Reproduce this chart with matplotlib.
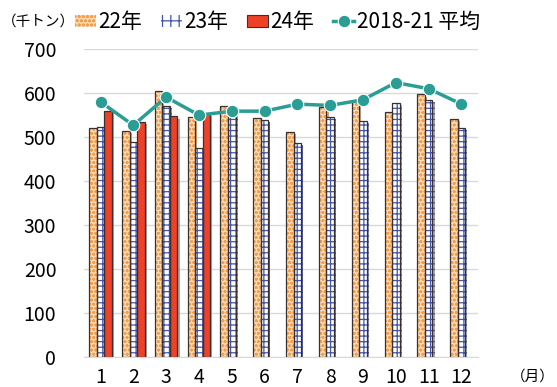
import numpy as np
import matplotlib.pyplot as plt
import matplotlib.patheffects as pe

plt.rcParams['font.family'] = ['Noto Sans CJK JP', 'DejaVu Sans']
plt.rcParams['hatch.linewidth'] = 0.9

# Monthly volumes (thousand tons)
months = ['1', '2', '3', '4', '5', '6', '7', '8', '9', '10', '11', '12']
y22 = [521, 515, 604, 545, 571, 543, 512, 569, 583, 557, 597, 542]
y23 = [524, 489, 571, 476, 555, 539, 487, 545, 536, 578, 585, 520]
y24 = [560, 535, 547, 552]
avg_1821 = [580, 527, 591, 550, 559, 559, 575, 572, 585, 624, 610, 575]

fig = plt.figure(figsize=(5.57, 3.87), dpi=100)
ax = fig.add_axes([0.151, 0.0775, 0.707, 0.7955])

x = np.arange(len(months))
w = 0.23
shadow = [pe.SimplePatchShadow(offset=(1.5, -1.5), shadow_rgbFace='#808080', alpha=0.7), pe.Normal()]

c22, h22c = '#FDDDB8', '#F2A050'
c23 = '#4454A8'
c24 = '#EE4128'

b22 = ax.bar(x - w, y22, w, color=c22, edgecolor=h22c, hatch='oooo', linewidth=0, zorder=2)
b23 = ax.bar(x, y23, w, color='white', edgecolor=c23, hatch='+++', linewidth=0, zorder=2)
b24 = ax.bar(x[:len(y24)] + w, y24, w, color=c24, edgecolor=c24, linewidth=0, zorder=2)
for bars in (b22, b23, b24):
    for p in bars:
        p.set_path_effects(shadow)
# dark outlines drawn on top of the hatched fills
ax.bar(x - w, y22, w, fill=False, edgecolor='#3A3030', linewidth=0.9, zorder=3)
ax.bar(x, y23, w, fill=False, edgecolor='#3A3030', linewidth=0.9, zorder=3)
ax.bar(x[:len(y24)] + w, y24, w, fill=False, edgecolor='#3A3030', linewidth=0.9, zorder=3)

ln, = ax.plot(x, avg_1821, color='#2A9D94', linewidth=2.5, marker='o', markersize=9,
              markeredgecolor='white', markeredgewidth=0.8, zorder=4)

ax.set_xlim(-0.5, 11.5)
ax.set_ylim(0, 700)
ax.set_yticks(range(0, 701, 100))
ax.set_xticks(x)
ax.set_xticklabels(months)
ax.yaxis.grid(True, color='#D9D9D9', linewidth=1)
ax.set_axisbelow(True)
for s in ('top', 'right', 'left'):
    ax.spines[s].set_visible(False)
ax.spines['bottom'].set_color('#D9D9D9')
ax.tick_params(axis='both', length=0, labelsize=14)
ax.tick_params(axis='y', pad=20)
ax.tick_params(axis='x', pad=7)

fig.text(0.003, 0.943, '（千トン）', fontsize=10.5, va='center', ha='left')
fig.text(0.996, 0.028, '（月）', fontsize=10.5, va='center', ha='right')

h22 = plt.Rectangle((0, 0), 1, 1, facecolor=c22, edgecolor=h22c, hatch='oooo', linewidth=0)
h23 = plt.Rectangle((0, 0), 1, 1, facecolor='white', edgecolor=c23, hatch='++', linewidth=0)
h24 = plt.Rectangle((0, 0), 1, 1, facecolor=c24, edgecolor='#3A3030', linewidth=0.8)
fig.legend([h22, h23, h24, ln], ['22年', '23年', '24年', '2018-21 平均'],
           loc='center left', bbox_to_anchor=(0.135, 0.943), ncol=4, frameon=False,
           fontsize=15, handlelength=1.0, handleheight=0.5, handletextpad=0.12,
           columnspacing=0.9, borderpad=0, borderaxespad=0)

fig.savefig('out.png', dpi=100)
